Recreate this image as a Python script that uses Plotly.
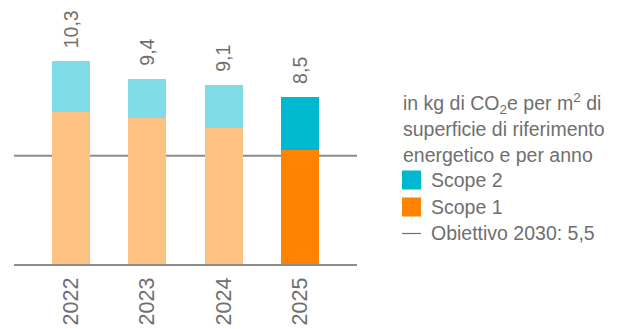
import plotly.graph_objects as go

years = ["2022", "2023", "2024", "2025"]
scope1 = [7.7, 7.4, 6.9, 5.8]
scope2 = [2.6, 2.0, 2.2, 2.7]
totals = [10.3, 9.4, 9.1, 8.5]
total_labels = ["10,3", "9,4", "9,1", "8,5"]
target_2030 = 5.5

scope1_colors = ["#FDC182", "#FDC182", "#FDC182", "#FF8300"]
scope2_colors = ["#80DCE6", "#80DCE6", "#80DCE6", "#00B8D0"]

W, H = 638, 329
L, R, T, B = 14, 281, 0, 65
GRAY = "#6F6F6F"
LINE = "#8C8C8C"
FONT = "Liberation Sans, Arial, Helvetica, sans-serif"

fig = go.Figure()
fig.add_bar(x=years, y=scope1, marker=dict(color=scope1_colors, line=dict(width=0)),
            width=0.5, name="Scope 1", showlegend=False, hoverinfo="skip")
fig.add_bar(x=years, y=scope2, marker=dict(color=scope2_colors, line=dict(width=0)),
            width=0.5, name="Scope 2", showlegend=False, hoverinfo="skip")

for i, (tot, lab) in enumerate(zip(totals, total_labels)):
    fig.add_annotation(x=i, y=tot, text=lab, textangle=-90, showarrow=False,
                       xanchor="center", yanchor="bottom", yshift=11,
                       font=dict(size=19.5, color=GRAY, family=FONT))

fig.add_shape(type="line", xref="paper", x0=0, x1=1, yref="y", y0=target_2030, y1=target_2030,
              line=dict(color=LINE, width=2), layer="below")

pw = W - L - R
ph = H - T - B
def px(x):
    return (x - L) / pw
def py(y):
    return 1 - (y - T) / ph

LEG = 19.5
legend_lines = [
    ("in kg di CO<sub>2</sub>e per m<sup>2</sup> di", 103),
    ("superficie di riferimento", 129),
    ("energetico e per anno", 155),
]
for txt, yc in legend_lines:
    fig.add_annotation(xref="paper", yref="paper", x=px(401), y=py(yc), text=txt,
                       showarrow=False, xanchor="left", yanchor="middle",
                       font=dict(size=LEG, color=GRAY, family=FONT))

legend_items = [("Scope 2", "#00B8D0", 180), ("Scope 1", "#FF8300", 207)]
for txt, col, yc in legend_items:
    fig.add_shape(type="rect", xref="paper", yref="paper", x0=px(402), x1=px(421),
                  y0=py(yc - 9.5), y1=py(yc + 9.5), fillcolor=col, line=dict(width=0))
    fig.add_annotation(xref="paper", yref="paper", x=px(429), y=py(yc), text=txt,
                       showarrow=False, xanchor="left", yanchor="middle",
                       font=dict(size=LEG, color=GRAY, family=FONT))
fig.add_shape(type="line", xref="paper", yref="paper", x0=px(402), x1=px(421),
              y0=py(233.5), y1=py(233.5), line=dict(color=GRAY, width=1.2))
fig.add_annotation(xref="paper", yref="paper", x=px(429), y=py(233), text="Obiettivo 2030: 5,5",
                   showarrow=False, xanchor="left", yanchor="middle",
                   font=dict(size=LEG, color=GRAY, family=FONT))

fig.update_layout(
    width=W, height=H, margin=dict(l=L, r=R, t=T, b=B, autoexpand=False),
    barmode="stack", plot_bgcolor="white", paper_bgcolor="white",
    showlegend=False,
)
fig.update_xaxes(type="category", range=[-0.75, 3.75], showline=True, linecolor=LINE, linewidth=2,
                 tickangle=-90, ticks="outside", ticklen=3, tickcolor="rgba(0,0,0,0)",
                 automargin=False,
                 tickfont=dict(size=21.5, color=GRAY, family=FONT), showgrid=False, zeroline=False)
fig.update_yaxes(range=[0, 264 / 19.7], visible=False, showgrid=False, zeroline=False)

fig.write_html("out.html")
